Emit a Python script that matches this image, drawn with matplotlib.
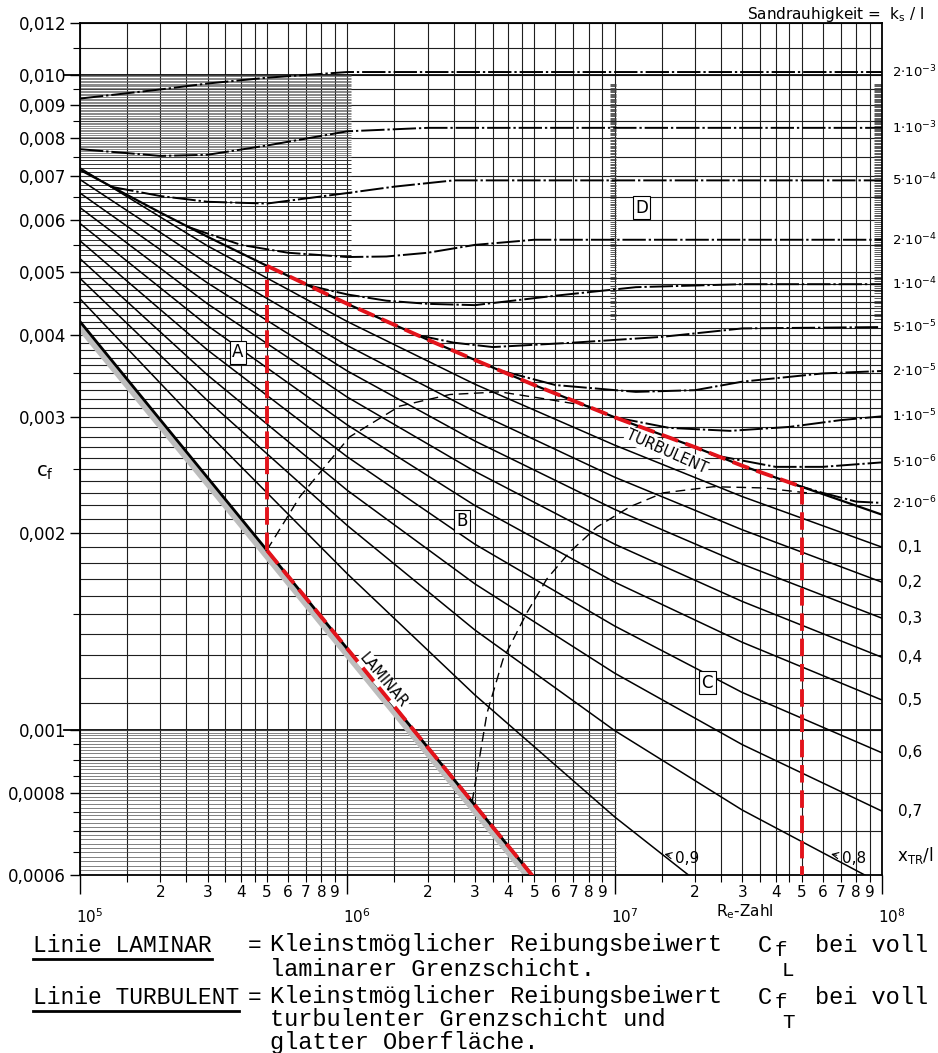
import numpy as np
import matplotlib
matplotlib.use("Agg")
import matplotlib.pyplot as plt
from matplotlib.transforms import blended_transform_factory

W, H = 938, 1053

trans_re = [1e5, 3e5, 1e6, 3e6, 1e7, 3e7, 1e8]

# Uebergangslinien x_TR/l = 0,1 ... 0,9 (c_f-Werte bei trans_re)
cf_tr_01 = [0.00721, 0.00548, 0.00420, 0.00337, 0.00272, 0.00227, 0.00190]
cf_tr_02 = [0.00692, 0.00515, 0.00386, 0.00306, 0.00243, 0.00202, 0.00168]
cf_tr_03 = [0.00660, 0.00481, 0.00353, 0.00276, 0.00217, 0.00179, 0.00148]
cf_tr_04 = [0.00627, 0.00447, 0.00322, 0.00248, 0.00192, 0.00157, 0.00129]
cf_tr_05 = [0.00593, 0.00414, 0.00292, 0.00220, 0.00168, 0.00136, 0.00111]
cf_tr_06 = [0.00558, 0.00380, 0.00261, 0.00192, 0.00144, 0.00114, 0.000922]
cf_tr_07 = [0.00524, 0.00348, 0.00232, 0.00167, 0.00122, 0.000949, 0.000751]
cf_tr_08 = [0.00489, 0.00318, 0.00205, 0.00142, 0.000997, 0.000754, 0.000581]
cf_tr_09 = [0.00455, 0.00284, 0.00173, 0.00113, 0.000736, 0.000517, 0.000369]
xtr_labels = ["0,1", "0,2", "0,3", "0,4", "0,5", "0,6", "0,7", "0,8", "0,9"]

# Linie LAMINAR und Linie TURBULENT
lam_re = [1e5, 5e5, 5e6]
lam_cf = [0.0042, 0.00188, 0.000594]
turb_re = [1e5, 2e5, 3e5, 5e5, 1e6, 2e6, 3e6, 5e6, 1e7, 2e7, 3e7, 5e7, 1e8]
turb_cf = [0.00716, 0.00616, 0.00566, 0.00511, 0.00447, 0.00394, 0.00367,
           0.00336, 0.00300, 0.00270, 0.00253, 0.00235, 0.00213]

# Sandrauhigkeit k_s/l
ks_labels = [r"$2{\cdot}10^{-3}$", r"$1{\cdot}10^{-3}$", r"$5{\cdot}10^{-4}$",
             r"$2{\cdot}10^{-4}$", r"$1{\cdot}10^{-4}$", r"$5{\cdot}10^{-5}$",
             r"$2{\cdot}10^{-5}$", r"$1{\cdot}10^{-5}$", r"$5{\cdot}10^{-6}$",
             r"$2{\cdot}10^{-6}$"]
ks_2e3_re = [1e5, 2e5, 3e5, 5e5, 1e6, 1e7, 1e8]
ks_2e3_cf = [0.0092, 0.0095, 0.0097, 0.0099, 0.0101, 0.0101, 0.0101]
ks_1e3_re = [1e5, 2e5, 3e5, 5e5, 1e6, 2e6, 5e6, 1e8]
ks_1e3_cf = [0.0077, 0.00752, 0.00755, 0.0078, 0.0082, 0.0083, 0.0083, 0.0083]
ks_5e4_re = [1.3e5, 2e5, 3e5, 5e5, 1e6, 1.5e6, 2.5e6, 1e8]
ks_5e4_cf = [0.00675, 0.00653, 0.0064, 0.00636, 0.0066, 0.00675, 0.0069, 0.0069]
ks_2e4_re = [2.5e5, 4e5, 6e5, 1e6, 1.4e6, 2e6, 3e6, 5e6, 1e8]
ks_2e4_cf = [0.00587, 0.0055, 0.00535, 0.00527, 0.00528, 0.00535, 0.0055,
             0.0056, 0.0056]
ks_1e4_re = [7e5, 1e6, 1.4e6, 2e6, 3e6, 6e6, 1.2e7, 3e7, 1e8]
ks_1e4_cf = [0.00478, 0.00462, 0.00452, 0.00447, 0.00445, 0.0046, 0.00474,
             0.00479, 0.00479]
ks_5e5_re = [1.8e6, 2.5e6, 3.5e6, 7e6, 1.5e7, 3e7, 1e8]
ks_5e5_cf = [0.00401, 0.0039, 0.00384, 0.0039, 0.00398, 0.0041, 0.00412]
ks_2e5_re = [3.8e6, 6e6, 1.2e7, 2e7, 3e7, 6e7, 1e8]
ks_2e5_cf = [0.00353, 0.00336, 0.00328, 0.0033, 0.0034, 0.0035, 0.00353]
ks_1e5_re = [1e7, 1.6e7, 2.7e7, 4.5e7, 7e7, 1e8]
ks_1e5_cf = [0.003, 0.00289, 0.00286, 0.0029, 0.00297, 0.00301]
ks_5e6_re = [2.3e7, 4e7, 6e7, 1e8]
ks_5e6_cf = [0.00263, 0.00252, 0.00252, 0.00256]
ks_2e6_re = [4.5e7, 6e7, 8e7, 1e8]
ks_2e6_cf = [0.00238, 0.0023, 0.00223, 0.00222]

# gestrichelte Bereichsgrenzen A/B und B/C
bound_ab_re = [5e5, 6.65e5, 1.02e6, 1.57e6, 2.42e6, 3.72e6, 5.5e6, 8e6]
bound_ab_cf = [0.00188, 0.00227, 0.0028, 0.00312, 0.00325, 0.00328, 0.0032,
               0.00312]
bound_bc_re = [2.93e6, 3.33e6, 3.82e6, 4.7e6, 5.58e6, 6.81e6, 8.59e6, 1.14e7,
               1.52e7, 2.34e7, 3.59e7, 5.24e7]
bound_bc_cf = [0.000776, 0.00106, 0.00128, 0.00151, 0.0017, 0.00187, 0.00204,
               0.00219, 0.0023, 0.00235, 0.00234, 0.0023]

# rote Markierung: Re-Bereich 5*10^5 ... 5*10^7
red_re = [5e5, 5e7]
red_lam_end = 5e6

y_labels = ["0,0006", "0,0008", "0,001", "0,002", "0,003", "0,004", "0,005",
            "0,006", "0,007", "0,008", "0,009", "0,010", "0,012"]
y_label_vals = [0.0006, 0.0008, 0.001, 0.002, 0.003, 0.004, 0.005, 0.006,
                0.007, 0.008, 0.009, 0.010, 0.012]


def px(x, y):
    return x / W, 1 - y / H


def draw_grid(ax):
    mult = [1, 1.5, 2, 2.5, 3, 3.5, 4, 4.5, 5, 6, 7, 8, 9]
    xs = [m * 10.0 ** e for e in (5, 6, 7) for m in mult] + [1e8]
    ax.vlines(xs, 6e-4, 0.012, color="0.12", lw=0.8, zorder=1)

    ys = list(np.round(np.arange(0.001, 0.00501, 0.0001), 5))
    ys += list(np.round(np.arange(0.0055, 0.01001, 0.0005), 5))
    ys += [0.0007, 0.0008, 0.0009, 0.011, 0.012]
    ax.hlines(ys, 1e5, 1e8, color="0.12", lw=0.8, zorder=1)
    ax.hlines([0.001, 0.010], 1e5, 1e8, color="0.05", lw=1.3, zorder=1)

    # dichte Schraffur links oben
    ax.hlines(np.arange(0.0075, 0.0100, 0.00005), 1e5, 1.03e6,
              color="0.35", lw=0.5, zorder=1)
    ax.hlines(np.arange(0.0050, 0.0075, 0.0001), 1e5, 1.03e6,
              color="0.2", lw=0.7, zorder=1)
    # Schraffur unten links
    ax.hlines(np.arange(0.0006, 0.0010, 0.00001), 1e5, 1.015e7,
              color="0.3", lw=0.5, zorder=1)
    # schmale Streifen bei 10^7 und am rechten Rand
    strip = np.arange(0.0042, 0.0097, 0.00004)
    ax.hlines(strip, 0.96e7, 1.015e7, color="0.25", lw=0.6, zorder=1)
    ax.hlines(strip, 0.935e8, 1e8, color="0.25", lw=0.6, zorder=1)


def draw_curves(ax):
    trans = [cf_tr_01, cf_tr_02, cf_tr_03, cf_tr_04, cf_tr_05, cf_tr_06,
             cf_tr_07, cf_tr_08, cf_tr_09]
    for cf in trans:
        ax.plot(trans_re, cf, color="black", lw=1.1, zorder=3)

    rough = [(ks_2e3_re, ks_2e3_cf), (ks_1e3_re, ks_1e3_cf),
             (ks_5e4_re, ks_5e4_cf), (ks_2e4_re, ks_2e4_cf),
             (ks_1e4_re, ks_1e4_cf), (ks_5e5_re, ks_5e5_cf),
             (ks_2e5_re, ks_2e5_cf), (ks_1e5_re, ks_1e5_cf),
             (ks_5e6_re, ks_5e6_cf), (ks_2e6_re, ks_2e6_cf)]
    for re, cf in rough:
        ax.plot(re, cf, color="black", lw=1.4, zorder=3,
                linestyle=(0, (12, 1.5, 1.2, 1.5)))

    ax.plot(bound_ab_re, bound_ab_cf, color="black", lw=1.0, zorder=3,
            linestyle=(0, (7, 4)))
    ax.plot(bound_bc_re, bound_bc_cf, color="black", lw=1.0, zorder=3,
            linestyle=(0, (7, 4)))

    # Linie LAMINAR mit grauem Saum
    lam = np.array(lam_cf)
    ax.fill_between(lam_re, lam * 0.962, lam, color="0.74", lw=0, zorder=2)
    ax.plot(lam_re, lam_cf, color="black", lw=2.0, zorder=4)
    ax.plot(turb_re, turb_cf, color="black", lw=1.6, zorder=4)

    # rote Markierung
    lam_at = dict(zip(lam_re, lam_cf))
    turb_at = dict(zip(turb_re, turb_cf))
    red = dict(color="#e3131b", lw=2.8, zorder=6, linestyle=(0, (4.5, 2)),
               solid_capstyle="butt")
    r0, r1 = red_re
    ax.plot([r0, r0], [lam_at[r0], turb_at[r0]], **red)
    seg = [(r, c) for r, c in zip(turb_re, turb_cf) if r0 <= r <= r1]
    ax.plot([s[0] for s in seg], [s[1] for s in seg], **red)
    ax.plot([r1, r1], [turb_at[r1], 6e-4], **red)
    ax.plot([r0, red_lam_end], [lam_at[r0], lam_at[red_lam_end]], **red)

    # Beschriftungen rechts
    tr = blended_transform_factory(ax.transAxes, ax.transData)
    for lab, (re, cf) in zip(ks_labels, rough):
        ax.text(1.013, cf[-1], lab, transform=tr, fontsize=9.5,
                va="center", ha="left")
    for lab, cf in zip(xtr_labels[:7], trans[:7]):
        ax.text(1.02, cf[-1], lab, transform=tr, fontsize=11,
                va="center", ha="left")


def draw_labels(ax):
    box = dict(boxstyle="square,pad=0.15", fc="white", ec="black", lw=0.8)
    for txt, x, y in [("A", 3.9e5, 3.77e-3), ("B", 2.68e6, 2.08e-3),
                      ("C", 2.22e7, 1.18e-3), ("D", 1.26e7, 6.27e-3)]:
        ax.text(x, y, txt, fontsize=12, ha="center", va="center",
                bbox=box, zorder=7)

    white = dict(boxstyle="square,pad=0.1", fc="white", ec="none")
    ax.text(1.36e6, 1.19e-3, "LAMINAR", rotation=-50, fontsize=10.5,
            ha="center", va="center", bbox=white, zorder=5)
    ax.text(1.57e7, 2.66e-3, "TURBULENT", rotation=-24, fontsize=10.5,
            ha="center", va="center", bbox=white, zorder=5)

    arrow = dict(arrowstyle="->", lw=0.8, color="black")
    ax.annotate("0,9", xy=(1.5e7, 0.000647), xytext=(1.68e7, 0.000635),
                fontsize=11, ha="left", va="center", arrowprops=arrow)
    ax.annotate("0,8", xy=(6.3e7, 0.000647), xytext=(7.1e7, 0.000635),
                fontsize=11, ha="left", va="center", arrowprops=arrow)


def setup_axes(ax):
    ax.set_xscale("log")
    ax.set_yscale("log")
    ax.set_xlim(1e5, 1e8)
    ax.set_ylim(6e-4, 0.012)

    ax.set_xticks([1e5, 1e6, 1e7, 1e8])
    ax.set_xticklabels(["", "", "", ""])
    mult = [1.5, 2, 2.5, 3, 3.5, 4, 4.5, 5, 6, 7, 8, 9]
    minor = [m * 10.0 ** e for e in (5, 6, 7) for m in mult]
    minor_lab = [str(int(m)) if m == int(m) else "" for e in (5, 6, 7)
                 for m in mult]
    ax.set_xticks(minor, minor=True)
    ax.set_xticklabels(minor_lab, minor=True)
    ax.tick_params(axis="x", which="major", direction="out", length=14,
                   width=1.0)
    ax.tick_params(axis="x", which="minor", direction="out", length=5,
                   width=0.8, labelsize=11, pad=2)

    ax.set_yticks(y_label_vals)
    ax.set_yticklabels(y_labels)
    y_minor = [0.00065, 0.0007, 0.00075, 0.00085, 0.0009, 0.00095, 0.0015,
               0.0025, 0.0035, 0.0045, 0.0055, 0.0065, 0.0075, 0.0085,
               0.0095, 0.011]
    ax.set_yticks(y_minor, minor=True)
    ax.set_yticklabels([""] * len(y_minor), minor=True)
    ax.tick_params(axis="y", which="major", direction="out", length=7,
                   width=1.0, labelsize=12, pad=3)
    ax.tick_params(axis="y", which="minor", direction="out", length=5,
                   width=0.8)
    for yv in (0.001, 0.010):
        ax.plot([0.875e5, 1e5], [yv, yv], color="black", lw=1.3,
                clip_on=False)

    for s in ax.spines.values():
        s.set_linewidth(1.3)

    # Dekaden unter der Achse
    for e in (5, 6, 7, 8):
        ax.annotate(r"$10^{%d}$" % e, xy=(10.0 ** e, 0), xycoords=("data",
                    "axes fraction"), xytext=(-3, -30),
                    textcoords="offset points", fontsize=11, ha="left",
                    va="center")


def draw_notes(fig):
    fig.text(*px(925, 14), r"Sandrauhigkeit =  k$_\mathrm{s}$ / l",
             fontsize=11, ha="right", va="center")
    fig.text(*px(45, 472), r"c$_\mathrm{f}$", fontsize=14, ha="center",
             va="center")
    fig.text(*px(897, 855), r"x$_\mathrm{TR}$/l", fontsize=12, ha="left",
             va="center")
    fig.text(*px(745, 912), r"R$_\mathrm{e}$-Zahl", fontsize=11,
             ha="center", va="center")

    fam = ["Liberation Mono", "DejaVu Sans Mono"]
    left = dict(family=fam, fontsize=16.5, va="center", ha="left")
    mono = dict(family=fam, fontsize=17, va="center", ha="left")
    sub = dict(mono, fontsize=15)
    adv = 13.75
    x0 = 270
    fig.text(*px(33, 945), "Linie LAMINAR", **left)
    fig.text(*px(33, 997), "Linie TURBULENT", **left)
    fig.text(*px(248, 945), "=", **left)
    fig.text(*px(248, 997), "=", **left)
    for y, s in [(945, "L"), (997, "T")]:
        fig.text(*px(x0, y), "Kleinstmöglicher Reibungsbeiwert", **mono)
        fig.text(*px(758, y), "C", **mono)
        fig.text(*px(775, y + 5), "f", **sub)
        fig.text(*px(782, y + 25), s, **sub)
        fig.text(*px(815, y), "bei voll", **mono)
    fig.text(*px(x0, 970), "laminarer Grenzschicht.", **mono)
    fig.text(*px(x0, 1020), "turbulenter Grenzschicht und", **mono)
    fig.text(*px(x0, 1042), "glatter Oberfläche.", **mono)

    for y, n in [(959, 13), (1011, 15)]:
        xa, ya = px(33, y)
        xb, _ = px(33 + n * adv, y)
        fig.add_artist(plt.Line2D([xa, xb], [ya, ya], color="black",
                                  lw=2.0, transform=fig.transFigure))


def main():
    fig = plt.figure(figsize=(W / 100, H / 100), dpi=100)
    fig.patch.set_facecolor("white")
    ax = fig.add_axes([80 / W, 1 - 875 / H, 802 / W, 852 / H])
    setup_axes(ax)
    draw_grid(ax)
    draw_curves(ax)
    draw_labels(ax)
    draw_notes(fig)
    fig.savefig("out.png", dpi=100, facecolor="white")


if __name__ == "__main__":
    main()
